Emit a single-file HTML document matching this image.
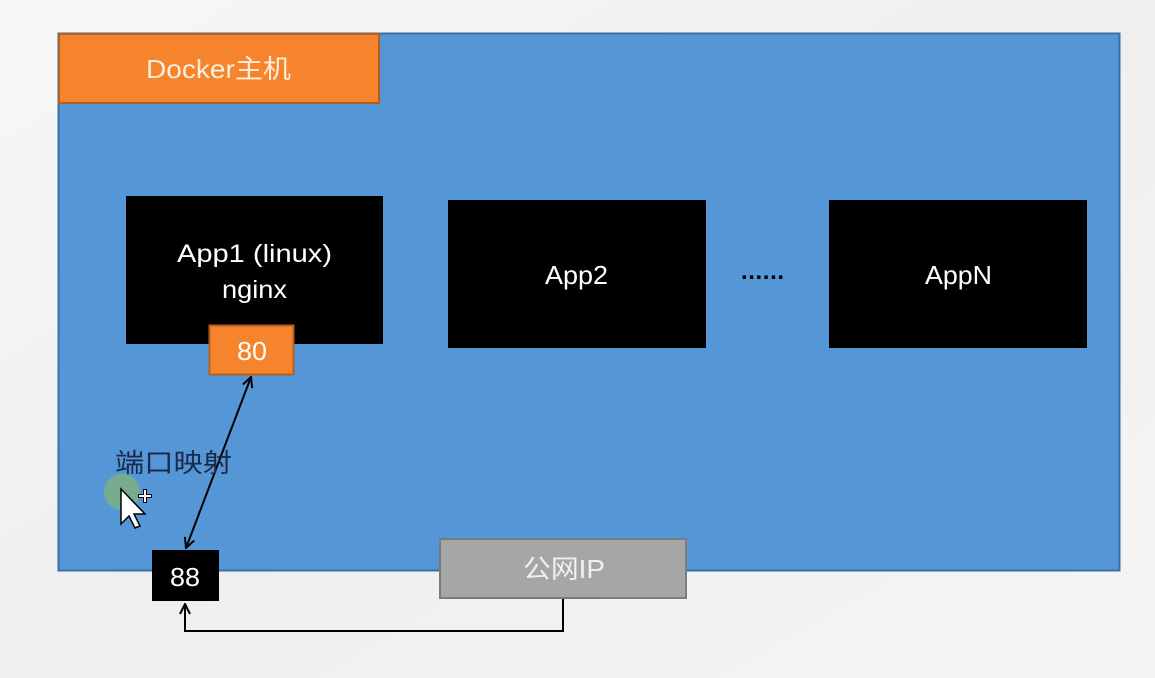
<!DOCTYPE html>
<html><head><meta charset="utf-8"><style>
html,body{margin:0;padding:0;background:#f3f3f3;width:1155px;height:678px;overflow:hidden}
text{font-family:"Liberation Sans","Noto Sans CJK SC",sans-serif}
</style></head><body>
<svg width="1155" height="678" viewBox="0 0 1155 678" xmlns="http://www.w3.org/2000/svg">
<defs>
<linearGradient id="bg" x1="0" y1="0" x2="1" y2="1">
<stop offset="0" stop-color="#f7f7f7"/><stop offset="0.5" stop-color="#efefef"/><stop offset="1" stop-color="#f5f5f5"/>
</linearGradient>
<marker id="ah" viewBox="0 0 12 12" refX="11" refY="6" markerWidth="12" markerHeight="12" markerUnits="userSpaceOnUse" orient="auto-start-reverse">
<path d="M1,1 L11,6 L1,11" fill="none" stroke="#000" stroke-width="2"/>
</marker>
</defs>
<rect width="1155" height="678" fill="url(#bg)"/>
<rect x="58.5" y="33.5" width="1061" height="537" fill="#5597d6" stroke="#3a6fa6" stroke-width="2"/>
<rect x="59" y="34" width="320" height="69" fill="#f5842c" stroke="#b35f20" stroke-width="2"/>
<text x="146" y="78" font-size="26" fill="#fbeedd" textLength="145" lengthAdjust="spacingAndGlyphs">Docker主机</text>
<rect x="126" y="196" width="257" height="148" fill="#000"/>
<text x="177" y="262" font-size="25" fill="#fff" textLength="155" lengthAdjust="spacingAndGlyphs">App1  (linux)</text>
<text x="222" y="298" font-size="25" fill="#fff" textLength="65" lengthAdjust="spacingAndGlyphs">nginx</text>
<rect x="448" y="200" width="258" height="148" fill="#000"/>
<text x="545" y="284" font-size="26" fill="#fff" textLength="63" lengthAdjust="spacingAndGlyphs">App2</text>
<text x="741" y="279" font-size="24" font-weight="bold" fill="#000" textLength="43" lengthAdjust="spacing">......</text>
<rect x="829" y="200" width="258" height="148" fill="#000"/>
<text x="925" y="284" font-size="26" fill="#fff" textLength="67" lengthAdjust="spacingAndGlyphs">AppN</text>
<rect x="209.5" y="325.5" width="84" height="49" fill="#f5842c" stroke="#b35f20" stroke-width="2"/>
<text x="237" y="360" font-size="26" fill="#fff" textLength="30" lengthAdjust="spacingAndGlyphs">80</text>
<line x1="251" y1="377" x2="186" y2="548" stroke="#000" stroke-width="2" marker-start="url(#ah)" marker-end="url(#ah)"/>
<text x="115" y="472" font-size="26" fill="#1a2a4a" font-family="Noto Sans CJK SC, sans-serif" textLength="117" lengthAdjust="spacingAndGlyphs">端口映射</text>
<circle cx="122" cy="492" r="18" fill="#7fb07a" opacity="0.8"/>
<path d="M121,489 L121,524 L129,516 L135,528 L140,526 L134,514 L145,514 Z" fill="#fff" stroke="#000" stroke-width="1.5"/>
<path d="M145,489 v14 M138,496 h14" stroke="#000" stroke-width="4"/>
<path d="M145,490 v12 M139,496 h12" stroke="#fff" stroke-width="2"/>
<rect x="152" y="550" width="67" height="51" fill="#000"/>
<text x="170" y="586" font-size="26" fill="#fff" textLength="30" lengthAdjust="spacingAndGlyphs">88</text>
<rect x="440" y="539" width="246" height="59" fill="#a6a6a6" stroke="#7b7b7b" stroke-width="2"/>
<text x="523" y="578" font-size="26" fill="#f0f0f0" textLength="82" lengthAdjust="spacingAndGlyphs">公网IP</text>
<polyline points="563,599 563,631 185,631 185,604" fill="none" stroke="#000" stroke-width="2" marker-end="url(#ah)"/>
</svg>
</body></html>
